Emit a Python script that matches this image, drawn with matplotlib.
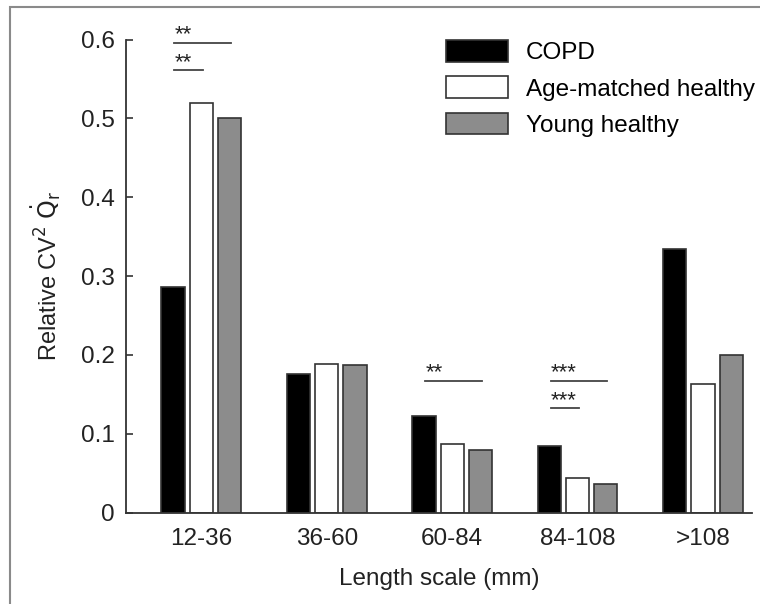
import matplotlib
matplotlib.use("Agg")
import matplotlib.pyplot as plt
import numpy as np
from matplotlib.patches import Rectangle

categories = ["12-36", "36-60", "60-84", "84-108", ">108"]
copd = [0.286, 0.176, 0.123, 0.085, 0.334]
age_matched = [0.519, 0.189, 0.087, 0.044, 0.163]
young = [0.500, 0.187, 0.079, 0.036, 0.200]
series_labels = ["COPD", "Age-matched healthy", "Young healthy"]

# significance bars: (group, y, x_end offset, stars)
sig_marks = [
    (0, 0.596, 0.225, "**"),
    (0, 0.561, 0.0, "**"),
    (2, 0.167, 0.225, "**"),
    (3, 0.167, 0.225, "***"),
    (3, 0.1325, 0.0, "***"),
]

plt.rcParams["font.family"] = ["Liberation Sans", "DejaVu Sans"]

fig = plt.figure(figsize=(7.6, 6.04), dpi=100)
ax = fig.add_axes([0.1658, 0.1512, 0.8237, 0.7834])

# outer frame
fig.patches.append(Rectangle((10 / 760, -0.1), 1.2, (604 - 7) / 604 + 0.1,
                             transform=fig.transFigure, fill=False,
                             edgecolor="#8a8a8a", linewidth=1.5))

x = np.arange(len(categories))
step = 0.225
width = 0.185
colors = ["black", "white", "#8c8c8c"]
for i, (vals, col, lab) in enumerate(zip([copd, age_matched, young], colors, series_labels)):
    ax.bar(x + (i - 1) * step, vals, width=width, color=col, edgecolor="#333333",
           linewidth=1.2, label=lab)

for g, y, x_end, stars in sig_marks:
    x0 = g - step
    ax.plot([x0 + 0.01, g + x_end + 0.01], [y, y], color="#444444", linewidth=1.3)
    ax.text(x0 + 0.01, y + 0.003, stars, fontsize=16, ha="left", va="baseline",
            color="#222222")

ax.set_xlim(-0.6, 4.39)
ax.set_ylim(0, 0.6)
ax.set_yticks([0, 0.1, 0.2, 0.3, 0.4, 0.5, 0.6])
ax.set_yticklabels(["0", "0.1", "0.2", "0.3", "0.4", "0.5", "0.6"])
ax.set_xticks(x)
ax.set_xticklabels(categories)
ax.tick_params(axis="y", direction="in", length=5, width=1.2, labelsize=17.5,
               pad=8, colors="#333333", labelcolor="#222222")
ax.tick_params(axis="x", length=0, labelsize=17.5, pad=11, labelcolor="#222222")
for s in ["top", "right"]:
    ax.spines[s].set_visible(False)
for s in ["left", "bottom"]:
    ax.spines[s].set_linewidth(1.3)
    ax.spines[s].set_color("#333333")

ax.set_xlabel("Length scale (mm)", fontsize=17.5, labelpad=13, color="#222222")
ax.set_ylabel(r"Relative CV$^2$ $\dot{\mathrm{Q}}_\mathrm{r}$", fontsize=17,
              labelpad=13, color="#222222")

ax.legend(loc="upper right", bbox_to_anchor=(1.032, 1.035), frameon=False,
          fontsize=17.5, handlelength=2.55, handleheight=1.0, labelspacing=0.5,
          handletextpad=0.75, borderaxespad=0.3)

fig.savefig("out.png", dpi=100)
